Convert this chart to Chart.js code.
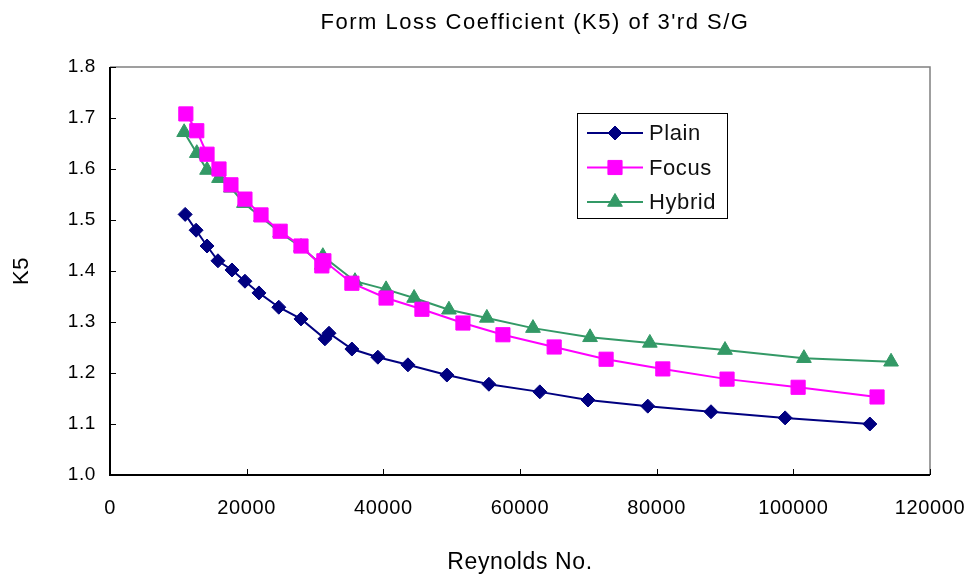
<!DOCTYPE html>
<html>
<head>
<meta charset="utf-8">
<title>Form Loss Coefficient (K5)</title>
<style>
  html, body { margin: 0; padding: 0; background: #ffffff; }
  #wrap { width: 969px; height: 581px; }
</style>
<script src="https://cdn.jsdelivr.net/npm/chart.js@4/dist/chart.umd.min.js"></script>
</head>
<body>
<div id="wrap"><canvas id="chart" width="969" height="581"></canvas></div>
<script>
// Reynolds number / K5 pairs for each steam generator configuration
const plainRe  = [11000, 12600, 14200, 15800, 17850, 19750, 21800, 24700, 27950, 31450, 32050, 35400, 39200, 43600, 49300, 55450, 62900, 69950, 78700, 87950, 98800, 111200];
const plainK5  = [1.511, 1.480, 1.449, 1.420, 1.402, 1.380, 1.357, 1.329, 1.306, 1.267, 1.278, 1.247, 1.231, 1.216, 1.196, 1.178, 1.163, 1.147, 1.135, 1.124, 1.112, 1.100];

const focusRe  = [11100, 12700, 14200, 15950, 17700, 19750, 22100, 24900, 27950, 31000, 31300, 35400, 40400, 45650, 51650, 57500, 65000, 72600, 80900, 90300, 100700, 112250];
const focusK5  = [1.708, 1.675, 1.629, 1.600, 1.569, 1.541, 1.510, 1.478, 1.449, 1.410, 1.420, 1.376, 1.347, 1.325, 1.298, 1.275, 1.251, 1.227, 1.208, 1.188, 1.172, 1.153];

const hybridRe = [10850, 12700, 14200, 15950, 17700, 19600, 22100, 24900, 27950, 31000, 31150, 35850, 40400, 44500, 49600, 55150, 61900, 70250, 79000, 90000, 101550, 114300];
const hybridK5 = [1.672, 1.631, 1.598, 1.582, 1.563, 1.533, 1.506, 1.475, 1.447, 1.412, 1.429, 1.380, 1.364, 1.347, 1.324, 1.308, 1.288, 1.270, 1.259, 1.245, 1.229, 1.222];

const seriesNames = ['Plain', 'Focus', 'Hybrid'];
const xTickValues = [0, 20000, 40000, 60000, 80000, 100000, 120000];
const yTickValues = [1.0, 1.1, 1.2, 1.3, 1.4, 1.5, 1.6, 1.7, 1.8];
const chartTitle = "Form Loss Coefficient (K5) of 3'rd S/G";

const FONT = "'Liberation Sans', Arial, sans-serif";

function pairs(xs, ys) {
  return xs.map((x, i) => ({ x: x, y: ys[i] }));
}

// Chart heading, centred a little right of the plot middle
const heading = {
  id: 'heading',
  afterDraw(chart) {
    const ctx = chart.ctx;
    ctx.save();
    ctx.letterSpacing = '1.5px';
    ctx.fillStyle = '#000000';
    ctx.font = '22px ' + FONT;
    ctx.textAlign = 'center';
    ctx.textBaseline = 'middle';
    ctx.fillText(chartTitle, 535, 23);
    ctx.restore();
  }
};

// Inner tick marks and the frame around the plot area
const frameAndTicks = {
  id: 'frameAndTicks',
  beforeDatasetsDraw(chart) {
    const { ctx, chartArea: a, scales } = chart;
    ctx.save();
    ctx.strokeStyle = '#808080';
    ctx.lineWidth = 1.5;
    ctx.beginPath();
    ctx.moveTo(a.left, a.top);
    ctx.lineTo(a.right, a.top);
    ctx.lineTo(a.right, a.bottom);
    ctx.stroke();

    ctx.strokeStyle = '#000000';
    ctx.lineWidth = 1;
    ctx.beginPath();
    xTickValues.forEach(v => {
      const px = Math.round(scales.x.getPixelForValue(v)) + 0.5;
      ctx.moveTo(px, a.bottom);
      ctx.lineTo(px, a.bottom - 6);
    });
    yTickValues.forEach(v => {
      const py = Math.round(scales.y.getPixelForValue(v)) + 0.5;
      ctx.moveTo(a.left, py);
      ctx.lineTo(a.left + 6, py);
    });
    ctx.stroke();

    ctx.lineWidth = 2;
    ctx.beginPath();
    ctx.moveTo(a.left, a.top);
    ctx.lineTo(a.left, a.bottom);
    ctx.lineTo(a.right, a.bottom);
    ctx.stroke();
    ctx.restore();
  }
};

// Boxed legend placed inside the plot area
const boxedLegend = {
  id: 'boxedLegend',
  afterDatasetsDraw(chart) {
    const ctx = chart.ctx;
    const bx = 577, by = 113, bw = 150, bh = 105;
    ctx.save();
    ctx.fillStyle = '#ffffff';
    ctx.fillRect(bx, by, bw, bh);
    ctx.strokeStyle = '#000000';
    ctx.lineWidth = 1;
    ctx.strokeRect(bx + 0.5, by + 0.5, bw, bh);
    chart.data.datasets.forEach((ds, i) => {
      const y = by + 20 + i * 34.5;
      ctx.strokeStyle = ds.borderColor;
      ctx.lineWidth = 2;
      ctx.beginPath();
      ctx.moveTo(bx + 10, y);
      ctx.lineTo(bx + 66, y);
      ctx.stroke();
      ctx.fillStyle = ds.pointBackgroundColor;
      ctx.strokeStyle = ds.pointBorderColor;
      ctx.lineWidth = 1;
      Chart.helpers.drawPoint(ctx, {
        pointStyle: ds.pointStyle,
        radius: ds.pointRadius,
        rotation: 0,
        borderWidth: 1
      }, bx + 38, y);
      ctx.fillStyle = '#111111';
      ctx.font = '22px ' + FONT;
      ctx.textBaseline = 'middle';
      ctx.textAlign = 'left';
      ctx.fillText(ds.label, bx + 72, y + 1);
    });
    ctx.restore();
  }
};

// Slightly open letter spacing for the axis text
const textSpacing = {
  id: 'textSpacing',
  beforeDraw(chart) { chart.ctx.letterSpacing = '0.6px'; },
  afterDraw(chart) { chart.ctx.letterSpacing = '0px'; }
};

const seriesStyle = [
  { color: '#000080', style: 'rectRot', radius: 7 },
  { color: '#FF00FF', style: 'rect', radius: 10 },
  { color: '#339966', style: 'triangle', radius: 8.5 }
];
const seriesData = [pairs(plainRe, plainK5), pairs(focusRe, focusK5), pairs(hybridRe, hybridK5)];

new Chart(document.getElementById('chart'), {
  type: 'scatter',
  data: {
    datasets: seriesNames.map((name, i) => ({
      label: name,
      data: seriesData[i],
      showLine: true,
      borderColor: seriesStyle[i].color,
      borderWidth: 2,
      pointStyle: seriesStyle[i].style,
      pointRadius: seriesStyle[i].radius,
      pointHoverRadius: seriesStyle[i].radius,
      pointBackgroundColor: seriesStyle[i].color,
      pointBorderColor: seriesStyle[i].color,
      pointBorderWidth: 1,
      tension: 0
    }))
  },
  options: {
    responsive: false,
    animation: false,
    devicePixelRatio: 1,
    layout: { padding: { left: 0, right: 39, top: 67, bottom: 0 } },
    plugins: {
      legend: { display: false },
      tooltip: { enabled: false },
      title: { display: false }
    },
    scales: {
      x: {
        type: 'linear',
        min: 0,
        max: 120000,
        afterFit(scale) {
          scale.height = 106;
          scale.paddingLeft = 0;
          scale.paddingRight = 0;
        },
        afterBuildTicks(scale) { scale.ticks = xTickValues.map(v => ({ value: v })); },
        grid: { display: false, drawTicks: false },
        border: { display: false },
        ticks: {
          color: '#000000',
          padding: 21,
          maxRotation: 0,
          font: { family: FONT, size: 20 },
          callback: v => String(v)
        },
        title: {
          display: true,
          text: 'Reynolds No.',
          color: '#000000',
          font: { family: FONT, size: 23 },
          padding: { top: 0, bottom: 5 }
        }
      },
      y: {
        type: 'linear',
        min: 1.0,
        max: 1.8,
        afterFit(scale) {
          scale.width = 110;
          scale.paddingTop = 0;
          scale.paddingBottom = 0;
        },
        afterBuildTicks(scale) { scale.ticks = yTickValues.map(v => ({ value: v })); },
        grid: { display: false, drawTicks: false },
        border: { display: false },
        ticks: {
          color: '#000000',
          padding: 14,
          font: { family: FONT, size: 19 },
          callback: v => Number(v).toFixed(1)
        },
        title: {
          display: true,
          text: 'K5',
          color: '#000000',
          font: { family: FONT, size: 22 },
          padding: { top: 9, bottom: 0 }
        }
      }
    }
  },
  plugins: [textSpacing, frameAndTicks, boxedLegend, heading]
});
</script>
</body>
</html>
